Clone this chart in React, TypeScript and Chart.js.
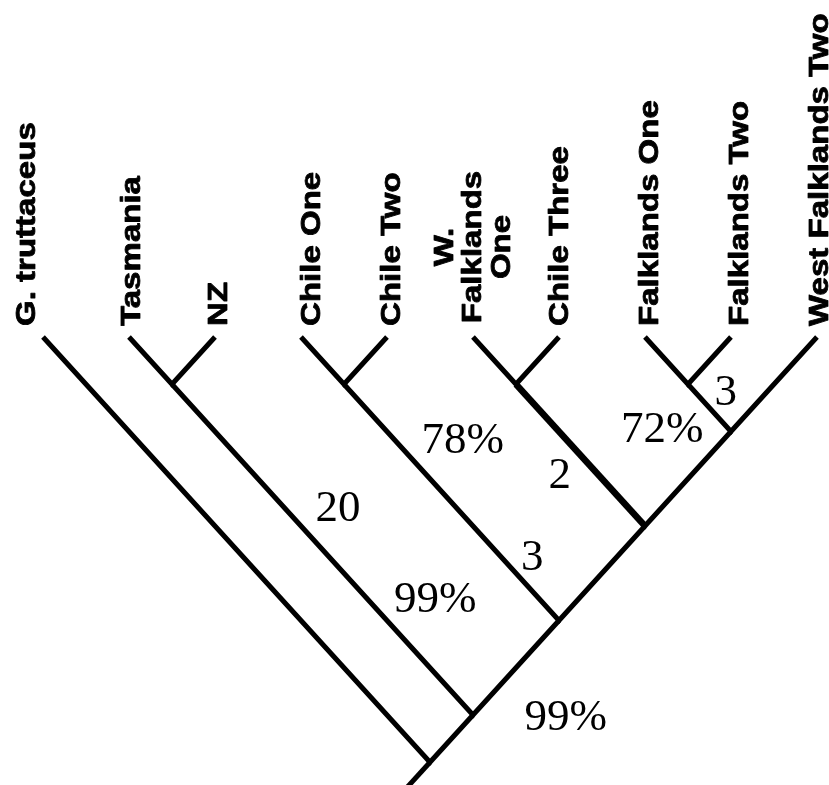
import { useEffect, useRef } from 'react';
import { Chart, registerables } from 'chart.js';

Chart.register(...registerables);

// ---- data ----
const taxa: string[] = [
  'G. truttaceus',
  'Tasmania',
  'NZ',
  'Chile One',
  'Chile Two',
  'W.\nFalklands\nOne',
  'Chile Three',
  'Falklands One',
  'Falklands Two',
  'West Falklands Two',
];

// internal nodes (ids 10..18): [left child, right child]
const cladeChildren: [number, number][] = [
  [1, 2],
  [3, 4],
  [5, 6],
  [7, 8],
  [13, 9],
  [12, 14],
  [11, 15],
  [10, 16],
  [0, 17],
];
// depth of each internal node below the tips (branch units)
const cladeDepth: number[] = [0.5, 0.5, 0.5, 0.5, 1, 2, 3, 4, 4.5];

// branch (child id) drawn heavier
const heavyBranch: number[] = [12];

// support / branch-length annotations
const supportLabels: string[] = ['78%', '2', '20', '3', '99%', '72%', '3', '99%'];
const supportX: number[] = [4.88, 6.01, 3.43, 5.69, 4.56, 7.2, 7.94, 6.08];
const supportY: number[] = [1.23, 1.6, 1.95, 2.47, 2.91, 1.11, 0.72, 4.16];

// ---- layout helpers (not data) ----
const labelNudge = [-20, -1, 0, 7, 1, 0, -3, 1, 5, -1];

function buildTree() {
  const nx: number[] = taxa.map((_, i) => i);
  const ny: number[] = taxa.map(() => 0);
  cladeChildren.forEach(([l], k) => {
    const d = cladeDepth[k];
    nx.push(nx[l] + (d - ny[l]));
    ny.push(d);
  });
  return { nx, ny };
}

export default function App() {
  const ref = useRef<HTMLCanvasElement>(null);

  useEffect(() => {
    const { nx, ny } = buildTree();
    const pt = (id: number) => ({ x: nx[id], y: ny[id] });
    const datasets: any[] = [];
    cladeChildren.forEach(([l, r], k) => {
      const id = taxa.length + k;
      datasets.push({
        data: [pt(l), pt(id), pt(r)],
        borderColor: '#000',
        borderWidth: 5,
        borderJoinStyle: 'miter',
        borderCapStyle: 'butt',
      });
    });
    heavyBranch.forEach((child) => {
      const k = cladeChildren.findIndex(([l, r]) => l === child || r === child);
      const id = taxa.length + k;
      datasets.push({
        data: [pt(child), pt(id)],
        borderColor: '#000',
        borderWidth: 6.5,
        borderCapStyle: 'butt',
      });
    });
    const root = nx.length - 1;
    datasets.push({
      data: [pt(root), { x: nx[root] - 0.5, y: ny[root] + 0.5 }],
      borderColor: '#000',
      borderWidth: 5,
    });
    datasets.forEach((d) => {
      d.showLine = true;
      d.pointRadius = 0;
      d.pointHoverRadius = 0;
      d.fill = false;
      d.tension = 0;
    });

    const textPlugin = {
      id: 'treeText',
      afterDatasetsDraw(chart: any) {
        const ctx = chart.ctx as CanvasRenderingContext2D;
        const xs = chart.scales.x;
        const ys = chart.scales.y;
        const tipY = ys.getPixelForValue(0);
        ctx.save();
        ctx.fillStyle = '#000';
        ctx.strokeStyle = '#000';
        ctx.lineWidth = 0.8;
        ctx.lineJoin = 'round';
        ctx.font = 'bold 28px "Liberation Sans", Arial, sans-serif';
        taxa.forEach((name, i) => {
          const px = xs.getPixelForValue(i);
          const lines = name.split('\n');
          ctx.save();
          if (lines.length === 1) {
            ctx.translate(px + 12 + labelNudge[i], tipY - 11);
            ctx.rotate(-Math.PI / 2);
            ctx.scale(1.18, 1);
            ctx.textAlign = 'left';
            ctx.textBaseline = 'alphabetic';
            ctx.fillText(name, 0, 0);
            ctx.strokeText(name, 0, 0);
          } else {
            ctx.translate(px, tipY - 90);
            ctx.rotate(-Math.PI / 2);
            ctx.scale(1.18, 1);
            ctx.textAlign = 'center';
            ctx.textBaseline = 'alphabetic';
            lines.forEach((ln, j) => {
              ctx.fillText(ln, 0, -20 + j * 28.5);
              ctx.strokeText(ln, 0, -20 + j * 28.5);
            });
          }
          ctx.restore();
        });
        ctx.font = '45px "Liberation Serif", "Times New Roman", serif';
        ctx.textAlign = 'center';
        ctx.textBaseline = 'alphabetic';
        supportLabels.forEach((t, i) => {
          ctx.fillText(t, xs.getPixelForValue(supportX[i]), ys.getPixelForValue(supportY[i]));
        });
        ctx.restore();
      },
    };

    const chart = new Chart(ref.current!, {
      type: 'scatter',
      data: { datasets },
      options: {
        responsive: false,
        animation: false,
        events: [],
        layout: { padding: 0 },
        plugins: {
          legend: { display: false },
          tooltip: { enabled: false },
          title: { display: false },
        },
        scales: {
          x: { type: 'linear', display: false, min: -0.5, max: 9.14 },
          y: { type: 'linear', display: false, reverse: true, min: -3.566, max: 4.741 },
        },
      },
      plugins: [textPlugin],
    } as any);
    return () => chart.destroy();
  }, []);

  return (
    <div style={{ position: 'fixed', left: 0, top: 0, width: 829, height: 785, background: '#fff' }}>
      <canvas ref={ref} width={829} height={785} style={{ display: 'block' }} />
    </div>
  );
}
